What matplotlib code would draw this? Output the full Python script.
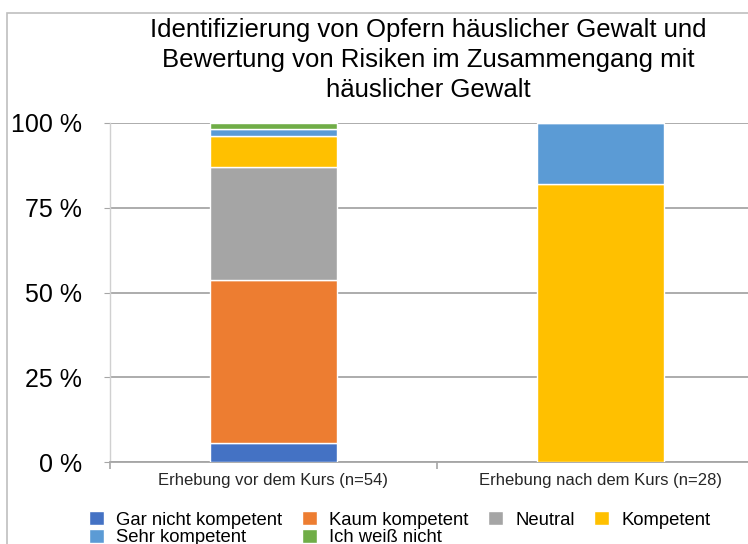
import matplotlib.pyplot as plt
from matplotlib.patches import Rectangle

plt.rcParams['font.family'] = ['Liberation Sans', 'DejaVu Sans']

titel = "Identifizierung von Opfern häuslicher Gewalt und\nBewertung von Risiken im Zusammengang mit\nhäuslicher Gewalt"
kategorien = ["Erhebung vor dem Kurs (n=54)", "Erhebung nach dem Kurs (n=28)"]
antworten = ["Gar nicht kompetent", "Kaum kompetent", "Neutral", "Kompetent",
             "Sehr kompetent", "Ich weiß nicht"]
farben = ["#4472C4", "#ED7D31", "#A5A5A5", "#FFC000", "#5B9BD5", "#70AD47"]

# Anteile in Prozent (vorher n=54, nachher n=28)
gar_nicht = [5.56, 0]
kaum = [48.15, 0]
neutral = [33.33, 0]
kompetent = [9.26, 82.14]
sehr = [1.85, 17.86]
weiss_nicht = [1.85, 0]
werte = [gar_nicht, kaum, neutral, kompetent, sehr, weiss_nicht]

W, H = 748, 544
fig = plt.figure(figsize=(W / 100, H / 100), dpi=100)
ax = fig.add_axes([110 / W, 1 - 462 / H, (764 - 110) / W, (462 - 123) / H])

x = list(range(len(kategorien)))
unten = [0] * len(kategorien)
handles = []
for name, vals, farbe in zip(antworten, werte, farben):
    b = ax.bar(x, vals, 0.39, bottom=unten, color=farbe, edgecolor="white",
               linewidth=1.0, label=name, zorder=3)
    handles.append(b)
    unten = [u + v for u, v in zip(unten, vals)]

ax.set_xlim(-0.5, 1.5)
ax.set_ylim(0, 100)
ax.set_yticks([0, 25, 50, 75, 100])
ax.set_yticklabels(["0 %", "25 %", "50 %", "75 %", "100 %"], fontsize=18)
ax.yaxis.grid(True, color="#A6A6A6", linewidth=1.3, zorder=0)
ax.tick_params(axis="y", length=4, color="#A6A6A6", pad=16)

ax.set_xticks([-0.5, 0.5, 1.5])
ax.set_xticklabels([])
ax.set_xticks(x, minor=True)
ax.set_xticklabels(kategorien, minor=True, fontsize=12, color="#262626")
ax.tick_params(axis="x", which="major", length=5, color="#A6A6A6", width=1.2)
ax.tick_params(axis="x", which="minor", length=0, pad=8)

for s in ["top", "right"]:
    ax.spines[s].set_visible(False)
ax.spines["bottom"].set_color("#A6A6A6")
ax.spines["bottom"].set_linewidth(1.3)
ax.spines["left"].set_color("#D0D0D0")
ax.spines["left"].set_linewidth(1.0)

fig.text(0.572, 1 - 60 / H, titel, ha="center", va="center", fontsize=18.5,
         multialignment="center", linespacing=1.3)

# Reihenfolge so, dass die Legende zeilenweise gefuellt wird
reihe = [0, 4, 1, 5, 2, 3]
fig.legend([handles[i] for i in reihe], [antworten[i] for i in reihe],
           loc="upper left", bbox_to_anchor=(89 / W, 1 - 511 / H), ncol=4,
           frameon=False, fontsize=13.3, borderpad=0, borderaxespad=0,
           handlelength=0.82, handleheight=0.82, handletextpad=0.66,
           columnspacing=1.05, labelspacing=0.0)

fig.add_artist(Rectangle((7 / W, -0.1), 1.2, 1.1 - 13 / H, transform=fig.transFigure,
                         fill=False, edgecolor="#BFBFBF", linewidth=1.2))

fig.savefig("out.png", dpi=100)
